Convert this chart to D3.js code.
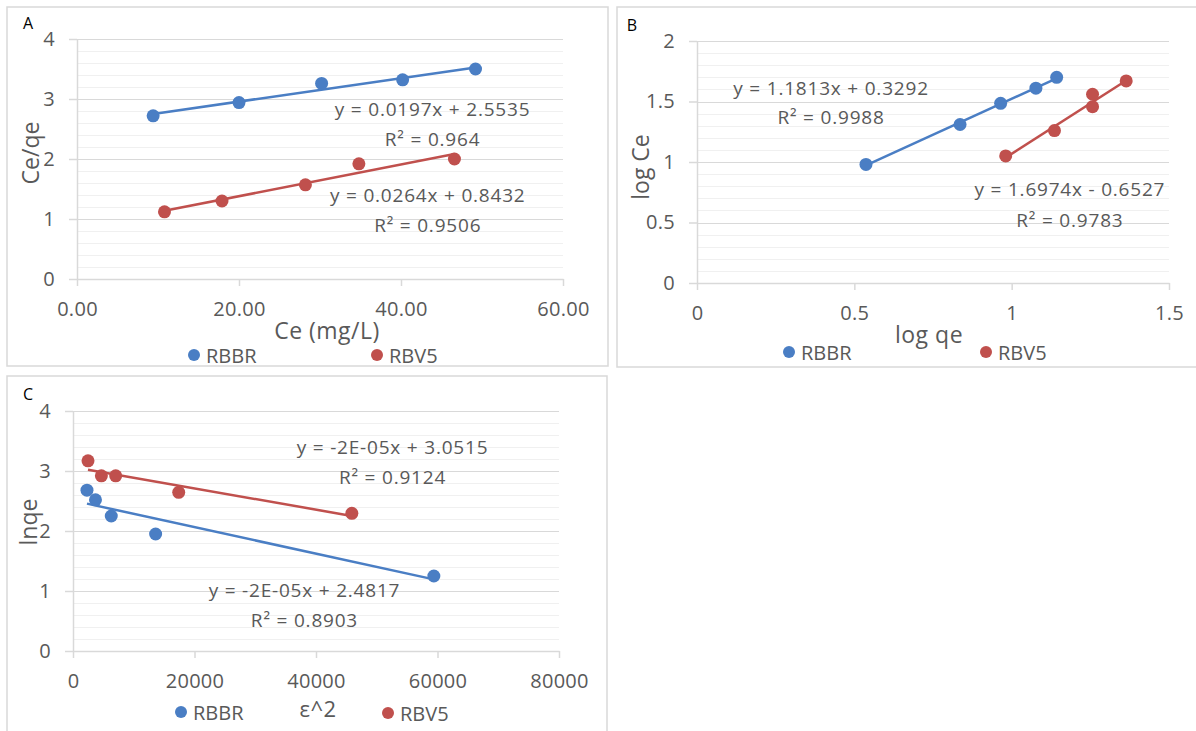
<!DOCTYPE html>
<html>
<head>
<meta charset="utf-8">
<script src="https://cdn.jsdelivr.net/npm/d3@7"></script>
<style>
  body { margin: 0; background: #fff; }
  svg { font-family: "Open Sans", sans-serif; }
</style>
</head>
<body>
<div id="viz"></div>
<script>
// ---- data ----
var seriesNames = ['RBBR', 'RBV5'];

// panel A: Ce/qe vs Ce
var aRbbrX = [9.4, 20.0, 30.2, 40.2, 49.2];
var aRbbrY = [2.72, 2.94, 3.26, 3.32, 3.50];
var aRbv5X = [10.8, 17.9, 28.2, 34.8, 46.6];
var aRbv5Y = [1.12, 1.30, 1.57, 1.92, 2.00];
var aXTicks = [0, 20, 40, 60];
var aYTicks = [0, 1, 2, 3, 4];
var aEquations = ['y = 0.0197x + 2.5535', 'R² = 0.964', 'y = 0.0264x + 0.8432', 'R² = 0.9506'];

// panel B: log Ce vs log qe
var bRbbrX = [0.537, 0.836, 0.965, 1.077, 1.143];
var bRbbrY = [0.98, 1.31, 1.485, 1.61, 1.70];
var bRbv5X = [0.981, 1.136, 1.257, 1.257, 1.364];
var bRbv5Y = [1.05, 1.26, 1.457, 1.56, 1.67];
var bXTicks = [0, 0.5, 1, 1.5];
var bYTicks = [0, 0.5, 1, 1.5, 2];
var bEquations = ['y = 1.1813x + 0.3292', 'R² = 0.9988', 'y = 1.6974x - 0.6527', 'R² = 0.9783'];

// panel C: ln qe vs eps^2
var cRbbrX = [2300, 3700, 6300, 13600, 59400];
var cRbbrY = [2.68, 2.52, 2.25, 1.95, 1.25];
var cRbv5X = [2470, 4670, 7030, 17400, 45900];
var cRbv5Y = [3.17, 2.92, 2.92, 2.645, 2.295];
var cXTicks = [0, 20000, 40000, 60000, 80000];
var cYTicks = [0, 1, 2, 3, 4];
var cEquations = ['y = -2E-05x + 3.0515', 'R² = 0.9124', 'y = -2E-05x + 2.4817', 'R² = 0.8903'];

var colors = ['#4A7EC4', '#C0504D'];
var textColor = '#595959';

var svg = d3.select('#viz').append('svg')
    .attr('width', 1196)
    .attr('height', 731);

function zip(xs, ys) {
    return xs.map(function (x, i) { return [x, ys[i]]; });
}

// least squares fit, like the excel trendline
function fit(pts) {
    var mx = d3.mean(pts, function (d) { return d[0]; }),
        my = d3.mean(pts, function (d) { return d[1]; });
    var sxy = d3.sum(pts, function (d) { return (d[0] - mx) * (d[1] - my); }),
        sxx = d3.sum(pts, function (d) { return (d[0] - mx) * (d[0] - mx); });
    var m = sxy / sxx;
    return { m: m, b: my - m * mx };
}

function drawPanel(p) {
    var g = svg.append('g');

    g.append('rect')
        .attr('x', p.box[0]).attr('y', p.box[1])
        .attr('width', p.box[2]).attr('height', p.box[3])
        .attr('fill', '#fff')
        .attr('stroke', '#D9D9D9')
        .attr('stroke-width', 1.5);

    g.append('text')
        .attr('x', p.letterPos[0]).attr('y', p.letterPos[1])
        .attr('text-anchor', 'middle')
        .attr('dominant-baseline', 'central')
        .style('font-size', '16px')
        .attr('fill', '#000')
        .text(p.letter);

    var xScale = d3.scaleLinear().domain(d3.extent(p.xTicks)).range([p.left, p.right]);
    var yScale = d3.scaleLinear().domain(d3.extent(p.yTicks)).range([p.bottom, p.top]);

    // minor gridlines, 5 per major step
    var step = p.yTicks[1] - p.yTicks[0];
    var minor = d3.range(0, (p.yTicks.length - 1) * 5 + 1).map(function (i) {
        return p.yTicks[0] + i * step / 5;
    });
    g.append('g').selectAll('line').data(minor).enter().append('line')
        .attr('x1', p.left).attr('x2', p.right)
        .attr('y1', function (d) { return Math.round(yScale(d)) + 0.5; })
        .attr('y2', function (d) { return Math.round(yScale(d)) + 0.5; })
        .attr('stroke', '#F0F0F0');

    g.append('g').selectAll('line').data(p.yTicks.slice(1)).enter().append('line')
        .attr('x1', p.left).attr('x2', p.right)
        .attr('y1', function (d) { return Math.round(yScale(d)) + 0.5; })
        .attr('y2', function (d) { return Math.round(yScale(d)) + 0.5; })
        .attr('stroke', '#D9D9D9');

    var yAxis = g.append('g')
        .attr('transform', 'translate(' + p.left + ',0)')
        .call(d3.axisLeft(yScale).tickValues(p.yTicks).tickFormat(d3.format('~g'))
            .tickSize(8).tickSizeOuter(0).tickPadding(14));

    var xAxis = g.append('g')
        .attr('transform', 'translate(0,' + p.bottom + ')')
        .call(d3.axisBottom(xScale).tickValues(p.xTicks).tickFormat(p.xFormat)
            .tickSize(7).tickSizeOuter(0).tickPadding(16));

    [yAxis, xAxis].forEach(function (ax) {
        ax.select('.domain').attr('stroke', '#D9D9D9').attr('stroke-width', 1.5);
        ax.selectAll('.tick line').attr('stroke', '#D9D9D9').attr('stroke-width', 1.5);
        ax.selectAll('.tick text')
            .attr('fill', textColor)
            .style('font-size', '20px')
            .style('letter-spacing', '0.3px')
            .style('font-family', '"Open Sans", sans-serif');
    });

    // axis titles
    g.append('text')
        .attr('transform', 'translate(' + p.yTitlePos[0] + ',' + p.yTitlePos[1] + ') rotate(-90)')
        .attr('text-anchor', 'middle')
        .attr('dominant-baseline', 'central')
        .style('font-size', '23px')
        .attr('fill', textColor)
        .text(p.yTitle);

    g.append('text')
        .attr('x', p.xTitlePos[0]).attr('y', p.xTitlePos[1])
        .attr('text-anchor', 'middle')
        .attr('dominant-baseline', 'central')
        .style('font-size', p.xTitleSize || '23px')
        .style('letter-spacing', '0.5px')
        .attr('fill', textColor)
        .text(p.xTitle);

    // trendlines then markers
    p.series.forEach(function (pts, i) {
        var f = fit(pts);
        var ext = d3.extent(pts, function (d) { return d[0]; });
        g.append('line')
            .attr('x1', xScale(ext[0])).attr('y1', yScale(f.m * ext[0] + f.b))
            .attr('x2', xScale(ext[1])).attr('y2', yScale(f.m * ext[1] + f.b))
            .attr('stroke', colors[i])
            .attr('stroke-width', 2.5);
    });

    p.series.forEach(function (pts, i) {
        g.append('g').selectAll('circle').data(pts).enter().append('circle')
            .attr('cx', function (d) { return xScale(d[0]); })
            .attr('cy', function (d) { return yScale(d[1]); })
            .attr('r', 6.5)
            .attr('fill', colors[i]);
    });

    // equation labels
    g.append('g').selectAll('text').data(p.equations).enter().append('text')
        .attr('x', function (d, i) { return xScale(p.eqPos[i][0]); })
        .attr('y', function (d, i) { return yScale(p.eqPos[i][1]); })
        .attr('text-anchor', 'middle')
        .attr('dominant-baseline', 'central')
        .style('font-size', '19px')
        .style('letter-spacing', '0.8px')
        .attr('fill', textColor)
        .text(function (d) { return d; });

    // legend
    var leg = g.append('g').selectAll('g').data(seriesNames).enter().append('g')
        .attr('transform', function (d, i) {
            return 'translate(' + p.legendPos[i][0] + ',' + p.legendPos[i][1] + ')';
        });
    leg.append('circle')
        .attr('r', 6)
        .attr('fill', function (d, i) { return colors[i]; });
    leg.append('text')
        .attr('x', 12)
        .attr('dominant-baseline', 'central')
        .style('font-size', '20px')
        .attr('fill', textColor)
        .text(function (d) { return d; });
}

drawPanel({
    letter: 'A', letterPos: [28, 23],
    box: [7, 7, 601, 359],
    left: 77, right: 563, top: 39, bottom: 279,
    xTicks: aXTicks, yTicks: aYTicks, xFormat: d3.format('.2f'),
    series: [zip(aRbbrX, aRbbrY), zip(aRbv5X, aRbv5Y)],
    equations: aEquations,
    eqPos: [[43.9, 2.83], [43.9, 2.33], [43.3, 1.40], [43.3, 0.90]],
    yTitle: 'Ce/qe', yTitlePos: [30, 153],
    xTitle: 'Ce (mg/L)', xTitlePos: [327, 330],
    legendPos: [[194, 355], [377, 355]]
});

drawPanel({
    letter: 'B', letterPos: [632, 25],
    box: [617, 7, 600, 360],
    left: 697, right: 1169, top: 41, bottom: 283,
    xTicks: bXTicks, yTicks: bYTicks, xFormat: d3.format('~g'),
    series: [zip(bRbbrX, bRbbrY), zip(bRbv5X, bRbv5Y)],
    equations: bEquations,
    eqPos: [[0.426, 1.612], [0.426, 1.372], [1.185, 0.776], [1.185, 0.519]],
    yTitle: 'log Ce', yTitlePos: [640, 167],
    xTitle: 'log qe', xTitlePos: [929, 334],
    legendPos: [[789, 352], [986, 352]]
});

drawPanel({
    letter: 'C', letterPos: [28, 394],
    box: [7, 376, 600, 380],
    left: 73, right: 559, top: 411, bottom: 651,
    xTicks: cXTicks, yTicks: cYTicks, xFormat: d3.format('d'),
    series: [zip(cRbbrX, cRbbrY), zip(cRbv5X, cRbv5Y)],
    equations: [cEquations[2], cEquations[3], cEquations[0], cEquations[1]],
    eqPos: [[38100, 1.017], [38100, 0.517], [52600, 3.40], [52600, 2.90]],
    yTitle: 'lnqe', yTitlePos: [28, 522],
    xTitle: 'ε^2', xTitlePos: [318, 708], xTitleSize: '22px',
    legendPos: [[181, 712], [388, 713]]
});
</script>
</body>
</html>
